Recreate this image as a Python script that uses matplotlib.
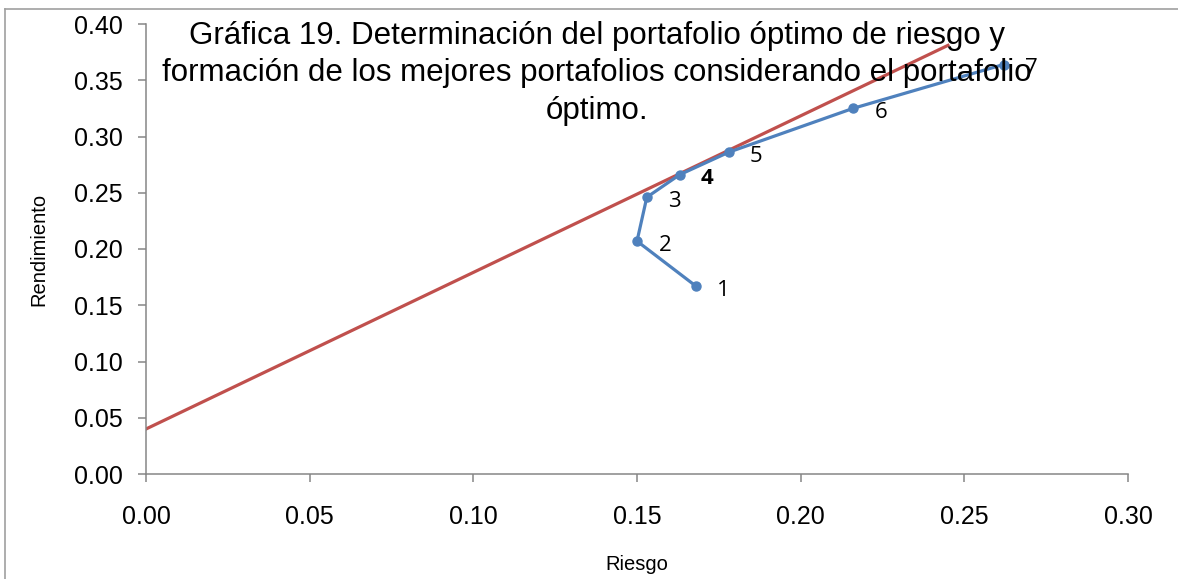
import matplotlib.pyplot as plt
from matplotlib.lines import Line2D

# portafolios (riesgo, rendimiento)
riesgo = [0.168, 0.150, 0.153, 0.163, 0.178, 0.216, 0.262]
rendimiento = [0.167, 0.207, 0.246, 0.266, 0.286, 0.325, 0.364]
etiquetas = ['1', '2', '3', '4', '5', '6', '7']

# linea del mercado de capitales
cml_x = [0.0, 0.245]
cml_y = [0.04, 0.381]

xticks = [0.00, 0.05, 0.10, 0.15, 0.20, 0.25, 0.30]
yticks = [0.00, 0.05, 0.10, 0.15, 0.20, 0.25, 0.30, 0.35, 0.40]

titulo = ('Gráfica 19. Determinación del portafolio óptimo de riesgo y\n'
          'formación de los mejores portafolios considerando el portafolio\n'
          'óptimo.')

plt.rcParams['font.family'] = ['Liberation Sans', 'DejaVu Sans']

fig = plt.figure(figsize=(11.78, 5.79), dpi=100)
ax = fig.add_axes([146 / 1178, 105 / 579, 982 / 1178, 450 / 579])

gris = '#868686'
azul = '#4F81BD'
rojo = '#C0504D'

ax.plot(cml_x, cml_y, color=rojo, lw=2.3, zorder=2)
ax.plot(riesgo, rendimiento, color=azul, lw=2.3, marker='o', ms=6.5, zorder=3)

for x, y, t in zip(riesgo, rendimiento, etiquetas):
    ax.annotate(t, (x, y), xytext=(20, -3), textcoords='offset points',
                ha='center', va='center', fontsize=16, family='Open Sans',
                fontweight='bold' if t == '4' else 'normal')

ax.set_xlim(0, 0.30)
ax.set_ylim(0, 0.40)
ax.set_xticks(xticks)
ax.set_yticks(yticks)
ax.set_xticklabels([f'{v:.2f}' for v in xticks])
ax.set_yticklabels([f'{v:.2f}' for v in yticks])
ax.tick_params(axis='both', colors=gris, labelcolor='black', labelsize=18,
               length=6, width=1.1, direction='out')
ax.tick_params(axis='x', pad=16)
ax.tick_params(axis='y', pad=11)

for s in ['top', 'right']:
    ax.spines[s].set_visible(False)
for s in ['left', 'bottom']:
    ax.spines[s].set_color(gris)
    ax.spines[s].set_linewidth(1.1)

ax.set_xlabel('Riesgo', fontsize=14.5)
ax.set_ylabel('Rendimiento', fontsize=14.5)
ax.xaxis.set_label_coords(0.5, -0.18)
ax.yaxis.set_label_coords(-0.099, 0.5)

fig.text(597 / 1178, 1 - 21 / 579, titulo, ha='center', va='top',
         fontsize=22.5, linespacing=1.32)

# marco exterior del grafico
fig.add_artist(Line2D([5 / 1178, 5 / 1178], [0, 1 - 9 / 579],
                      transform=fig.transFigure, color='#A0A0A0', lw=1.2))
fig.add_artist(Line2D([5 / 1178, 1], [1 - 9 / 579, 1 - 9 / 579],
                      transform=fig.transFigure, color='#A0A0A0', lw=1.2))

fig.savefig('out.png', dpi=100)
